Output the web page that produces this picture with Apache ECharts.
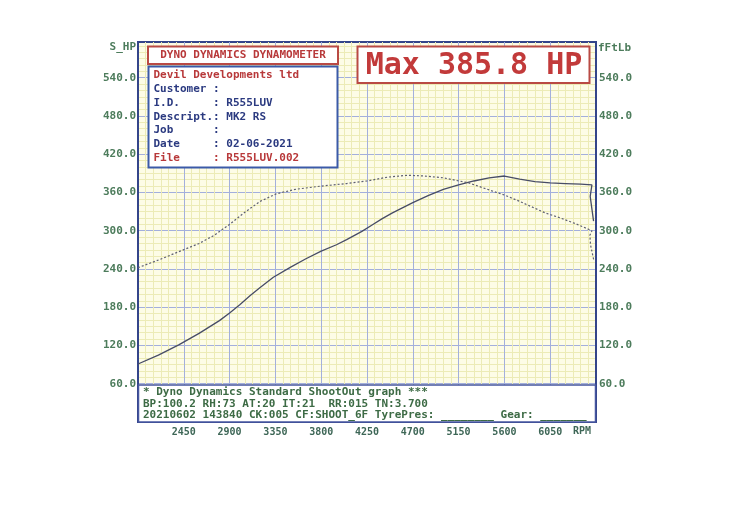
<!DOCTYPE html>
<html>
<head>
<meta charset="utf-8">
<script src="https://cdn.jsdelivr.net/npm/echarts@6/dist/echarts.min.js"></script>
<style>
html,body{margin:0;padding:0;background:#fff;}
#chart{width:730px;height:516px;}
</style>
</head>
<body>
<div id="chart"></div>
<script>
// ---- data (read from the dyno sheet) ----
const RPM_ORIGIN = 2000;           // left edge of the rpm scale
const RPM_END = 6500;
const xTickLabels = ['2450','2900','3350','3800','4250','4700','5150','5600','6050'];
const yTickLabels = ['60.0','120.0','180.0','240.0','300.0','360.0','420.0','480.0','540.0'];

// power curve (S_HP) : rpm, hp
const powerRpm = [2000,2200,2400,2600,2800,2900,3000,3100,3200,3330,3500,3650,3800,3950,4050,4200,4300,4400,4500,4700,4850,5000,5150,5300,5450,5600,5750,5900,6050,6200,6350,6460,6443,6476];
const powerHp  = [91,105,121,139,159,171,184,198,211,227,243,256,268,278,286,299,309,319,328,344,355,365,372,378,383,385.8,381,377,375,374,373,372,354,315];

// torque curve (fFtLb) : rpm, ft-lb
const torqueRpm = [2000,2200,2400,2600,2750,2900,3050,3200,3360,3550,3800,4050,4250,4450,4650,4800,5000,5250,5450,5600,5750,6000,6150,6300,6460,6440,6446,6478];
const torqueFt  = [242,254,267,280,293,310,329,346,358,365,370,374,378,384,387,386,383,375,364,356,346,328,320,311,300,293,278,254];

const infoLines = [
  {t:'Devil Developments ltd', c:'red'},
  {t:'Customer :', c:'blue'},
  {t:'I.D.     : R555LUV', c:'blue'},
  {t:'Descript.: MK2 RS', c:'blue'},
  {t:'Job      :', c:'blue'},
  {t:'Date     : 02-06-2021', c:'blue'},
  {t:'File     : R555LUV.002', c:'red'}
];
const footerLines = [
  '* Dyno Dynamics Standard ShootOut graph ***',
  'BP:100.2 RH:73 AT:20 IT:21  RR:015 TN:3.700',
  '20210602 143840 CK:005 CF:SHOOT_6F TyrePres: ________ Gear: _______'
];
const titleText = 'DYNO DYNAMICS DYNAMOMETER';
const maxText = 'Max 385.8 HP';

// ---- chart ----
const FONT = '"DejaVu Sans Mono", "Liberation Mono", monospace';
const RED = '#b8393a';
const NAVY = '#2b3a80';
const GREEN = '#3d6b45';
const LABEL = '#4d7c5c';

const toPts = (xs, ys) => xs.map((x, i) => [x - RPM_ORIGIN, ys[i]]);

const yAxisCommon = {
  type: 'value', min: 0, max: 596, interval: 60,
  axisTick: {show: false},
  axisLine: {show: true, lineStyle: {color: '#34458a', width: 2}},
  splitLine: {show: true, showMinLine: false, showMaxLine: false, lineStyle: {color: '#a3afdc', width: 1}},
  minorTick: {show: false, splitNumber: 6},
  minorSplitLine: {show: true, lineStyle: {color: '#ecebb6', width: 1}},
  axisLabel: {
    color: LABEL, fontFamily: FONT, fontSize: 11, fontWeight: 'bold', margin: 2,
    formatter: v => { const s = v.toFixed(1); return yTickLabels.includes(s) ? s : ''; }
  }
};

const graphics = [];
// axis names
graphics.push({type:'text', x: 136, y: 47, z: 100, style:{text:'S_HP', fill: LABEL, font:'bold 11px ' + FONT, align:'right', verticalAlign:'middle'}});
graphics.push({type:'text', x: 598, y: 48, z: 100, style:{text:'fFtLb', fill: LABEL, font:'bold 11px ' + FONT, align:'left', verticalAlign:'middle'}});
graphics.push({type:'text', x: 582, y: 431, z: 100, style:{text:'RPM', fill: '#3d6656', font:'bold 10px ' + FONT, align:'center', verticalAlign:'middle'}});
// title box
graphics.push({type:'rect', z: 100, shape:{x:148, y:46.5, width:190, height:17.5}, style:{fill:'#fff', stroke:'#b94a44', lineWidth:2}});
graphics.push({type:'text', z: 101, x: 243, y: 55.5, style:{text: titleText, fill: RED, font:'bold 11px ' + FONT, align:'center', verticalAlign:'middle'}});
// info box
graphics.push({type:'rect', z: 100, shape:{x:148.5, y:66.5, width:189, height:101}, style:{fill:'#fff', stroke:'#3b5aa8', lineWidth:2}});
infoLines.forEach((l, i) => {
  graphics.push({type:'text', z: 101, x: 153.5, y: 75.5 + i * 13.75, style:{text: l.t, fill: l.c === 'red' ? RED : NAVY, font:'bold 11px ' + FONT, align:'left', verticalAlign:'middle'}});
});
// max box
graphics.push({type:'rect', z: 100, shape:{x:357.5, y:46.5, width:232, height:36.5}, style:{fill:'#fff', stroke:'#b94a44', lineWidth:2}});
graphics.push({type:'text', z: 101, x: 474, y: 66, style:{text: maxText, fill: '#c23a3a', font:'bold 30px ' + FONT, align:'center', verticalAlign:'middle'}});
// footer box
graphics.push({type:'rect', z: 100, shape:{x:138.5, y:385, width:457, height:37}, style:{fill:'#fff', stroke:'#4556a0', lineWidth:1.5}});
footerLines.forEach((t, i) => {
  graphics.push({type:'text', z: 101, x: 143, y: 392 + i * 11.7, style:{text: t, fill: GREEN, font:'bold 11px ' + FONT, align:'left', verticalAlign:'middle'}});
});

const option = {
  backgroundColor: '#ffffff',
  animation: false,
  grid: {left: 138, right: 134, top: 42, bottom: 94, show: true, backgroundColor: '#fdfce6', borderColor: '#34458a', borderWidth: 2},
  xAxis: {
    type: 'value', min: 0, max: RPM_END - RPM_ORIGIN, interval: 450,
    axisTick: {show: false},
    axisLine: {show: true, lineStyle: {color: '#34458a', width: 2}},
    splitLine: {show: true, showMinLine: false, showMaxLine: false, lineStyle: {color: '#a3afdc', width: 1}},
    minorTick: {show: false, splitNumber: 6},
    minorSplitLine: {show: true, lineStyle: {color: '#ecebb6', width: 1}},
    axisLabel: {
      color: '#3d6656', fontFamily: FONT, fontSize: 10, fontWeight: 'bold', margin: 5,
      formatter: v => { const s = String(v + RPM_ORIGIN); return xTickLabels.includes(s) ? s : ''; }
    }
  },
  yAxis: [
    Object.assign({}, yAxisCommon, {position: 'left'}),
    Object.assign({}, yAxisCommon, {position: 'right', splitLine: {show: false}, minorSplitLine: {show: false},
      axisLabel: Object.assign({}, yAxisCommon.axisLabel, {margin: 3})})
  ],
  series: [
    {
      name: 'S_HP', type: 'line', yAxisIndex: 0, data: toPts(powerRpm, powerHp),
      showSymbol: false, symbol: 'none', smooth: false,
      lineStyle: {color: '#474c66', width: 1.3}, z: 5
    },
    {
      name: 'fFtLb', type: 'line', yAxisIndex: 1, data: toPts(torqueRpm, torqueFt),
      showSymbol: false, symbol: 'none', smooth: false,
      lineStyle: {color: '#5d5f72', width: 1.2, type: [2, 2]}, z: 5
    }
  ],
  graphic: graphics
};

const chart = echarts.init(document.getElementById('chart'), null, {renderer: 'canvas'});
chart.setOption(option);
</script>
</body>
</html>
